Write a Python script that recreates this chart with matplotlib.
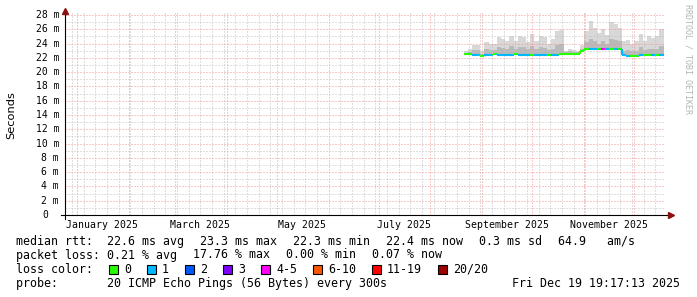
import matplotlib
matplotlib.use("Agg")
import matplotlib.pyplot as plt
import matplotlib.dates as mdates
from matplotlib.patches import Rectangle
import pandas as pd

W, H = 697, 297
MONO = "DejaVu Sans Mono"

# graph covers the last 360 days
t_end = pd.Timestamp("2025-12-19 19:17:13")
t_start = t_end - pd.Timedelta(days=360)

# consolidated rows, one every 2.5 days, from late August on
first_row = pd.Timestamp("2025-08-21 00:00")
row_step = pd.Timedelta(hours=60)

median_ms = [22.5, 22.5, 22.45, 22.45, 22.3, 22.45, 22.45, 22.5, 22.45, 22.45,
             22.45, 22.45, 22.5, 22.4, 22.4, 22.4, 22.45, 22.4, 22.4, 22.4,
             22.45, 22.4, 22.45, 22.5, 22.6, 22.6, 22.6, 22.6, 23.0, 23.3,
             23.3, 23.25, 23.3, 23.3, 23.3, 23.25, 23.3, 23.2, 22.4, 22.3,
             22.3, 22.3, 22.45, 22.45, 22.4, 22.45, 22.4, 22.4]
loss_bin = [0, 0, 1, 1, 0, 1, 1, 0, 1, 1,
            1, 1, 0, 1, 1, 1, 0, 1, 1, 1,
            0, 1, 1, 0, 0, 0, 0, 0, 0, 0,
            1, 1, 0, 4, 1, 0, 1, 0, 1, 1,
            0, 0, 1, 0, 0, 1, 0, 1]
smoke_mid_ms = [22.7, 22.8, 23.1, 23.1, 22.6, 23.2, 23.1, 23.1, 23.5, 23.4,
                23.3, 23.6, 23.2, 23.5, 23.5, 23.2, 23.6, 23.3, 23.5, 23.4,
                23.1, 23.3, 23.8, 23.9, 22.8, 22.9, 22.8, 22.8, 23.3, 24.2,
                24.6, 24.4, 24.0, 24.3, 24.0, 24.7, 24.5, 24.3, 23.0, 23.1,
                22.9, 23.0, 23.5, 23.1, 23.3, 23.2, 23.3, 23.6]
smoke_top_ms = [22.9, 23.2, 23.8, 23.8, 23.0, 24.2, 24.0, 23.9, 24.9, 24.6,
                24.4, 25.1, 24.3, 25.0, 24.9, 24.2, 25.3, 24.4, 25.0, 24.9,
                24.0, 24.6, 25.7, 25.9, 23.0, 23.2, 23.1, 22.9, 23.8, 25.8,
                27.1, 26.2, 25.5, 26.0, 25.2, 27.0, 26.7, 26.2, 24.3, 24.5,
                24.0, 24.4, 25.4, 24.4, 25.0, 24.8, 25.1, 26.0]

loss_labels = ["0", "1", "2", "3", "4-5", "6-10", "11-19", "20/20"]
loss_colors = ["#26ff00", "#00b8ff", "#0059ff", "#7e00ff",
               "#ff00ff", "#ff5500", "#ff0000", "#a10000"]

y_ticks = list(range(0, 29, 2))
month_labels = ["January 2025", "March 2025", "May 2025",
                "July 2025", "September 2025", "November 2025"]
month_label_dates = ["2025-01-16", "2025-03-16", "2025-05-16",
                     "2025-07-16", "2025-09-16", "2025-11-16"]

rtt_items = ["median rtt:  22.6 ms avg", "23.3 ms max", "22.3 ms min",
             "22.4 ms now", "0.3 ms sd", "64.9   am/s"]
loss_items = ["packet loss: 0.21 % avg", "17.76 % max", "0.00 % min", "0.07 % now"]
probe_text = "probe:       20 ICMP Echo Pings (56 Bytes) every 300s"
stamp_text = "Fri Dec 19 19:17:13 2025"

fig = plt.figure(figsize=(W / 100, H / 100), dpi=100)
ax = fig.add_axes([65 / W, 1 - 215 / H, 600 / W, 202 / H])
ax.set_xlim(mdates.date2num(t_start), mdates.date2num(t_end))
ax.set_ylim(0, 202 / (200 / 28))

n = len(median_ms)
edges = [mdates.date2num(first_row + i * row_step) for i in range(n + 1)]
left, right = edges[:-1], edges[1:]

# smoke
ax.fill_between(edges, median_ms + median_ms[-1:], smoke_top_ms + smoke_top_ms[-1:],
                step="post", color="#d8d8d8", lw=0, zorder=1)
ax.fill_between(edges, median_ms + median_ms[-1:], smoke_mid_ms + smoke_mid_ms[-1:],
                step="post", color="#b9b9b9", lw=0, zorder=1.2)

# median coloured by loss
cols = [loss_colors[b] for b in loss_bin]
ax.hlines(median_ms, left, right, colors=cols, lw=1.5, zorder=3)
ax.vlines(right[:-1], median_ms[:-1], median_ms[1:], colors=cols[1:], lw=1.5, zorder=3)

# grid
ax.xaxis.set_major_locator(mdates.MonthLocator())
ax.xaxis.set_minor_locator(mdates.WeekdayLocator(byweekday=mdates.SU))
ax.yaxis.set_major_locator(plt.FixedLocator(y_ticks))
ax.yaxis.set_minor_locator(plt.MultipleLocator(1))
ax.set_axisbelow(False)
ax.grid(which="minor", color="#c0c0c0", lw=0.72, ls=(0, (1, 2)))
ax.grid(which="major", color="#f09494", lw=0.72, ls=(0, (1, 2)))
ax.tick_params(which="both", length=0, labelbottom=False, labelleft=False)

for s in ax.spines.values():
    s.set_visible(False)
# axis lines running a little past the plot, with arrow heads
ax.plot([-4 / 600, 604 / 600], [0, 0], color="black", lw=0.8, transform=ax.transAxes,
        clip_on=False, zorder=4)
ax.plot([0, 0], [-4 / 202, 201 / 202], color="black", lw=0.8, transform=ax.transAxes,
        clip_on=False, zorder=4)
ax.plot([606 / 600], [0], marker=">", ms=4, color="#8b1010", transform=ax.transAxes,
        clip_on=False, zorder=5)
ax.plot([0], [204 / 202], marker="^", ms=4, color="#8b1010", transform=ax.transAxes,
        clip_on=False, zorder=5)

# tick labels
ytr = ax.get_yaxis_transform()
for v in y_ticks:
    if v:
        ax.text((59 - 65) / 600, v, f"{v} m", transform=ytr, ha="right", va="center",
                fontsize=7, family=MONO)
    else:
        ax.text((48 - 65) / 600, v, "0", transform=ytr, ha="right", va="center",
                fontsize=7, family=MONO)
xtr = ax.get_xaxis_transform()
for lab, d in zip(month_labels, month_label_dates):
    ax.text(mdates.date2num(pd.Timestamp(d)), -9.5 / 202, lab, transform=xtr,
            ha="center", va="center", fontsize=7.1, family=MONO)

fig.text(11 / W, 1 - 115 / H, "Seconds", rotation=90, ha="center", va="center",
         fontsize=8.2, family="DejaVu Sans")
fig.text(688 / W, 1 - 59 / H, "RRDTOOL / TOBI OETIKER", rotation=270, ha="center",
         va="center", fontsize=6, family=MONO, color="#b4b4b4")

# legend block
CW, GAP, FS = 7.0, 16, 8.37


def put(x, y, s):
    fig.text(x / W, 1 - y / H, s, ha="left", va="center", fontsize=FS, family=MONO)


x = 16
for s in rtt_items:
    put(x, 241.5, s)
    x += len(s) * CW + GAP
x = 16
for s in loss_items:
    put(x, 255, s)
    x += len(s) * CW + GAP

put(16, 269.3, "loss color:")
x = 16 + 11 * CW + GAP
for lab, c in zip(loss_labels, loss_colors):
    fig.add_artist(Rectangle((x / W, 1 - 274 / H), 9 / W, 9 / H, transform=fig.transFigure,
                             facecolor=c, edgecolor="black", lw=0.8))
    put(x + 15, 269.3, lab)
    x += 15 + len(lab) * CW + GAP

put(16, 283.3, probe_text)
fig.text(680 / W, 1 - 283.3 / H, stamp_text, ha="right", va="center", fontsize=FS, family=MONO)

fig.savefig("out.png", dpi=100, facecolor="white")
